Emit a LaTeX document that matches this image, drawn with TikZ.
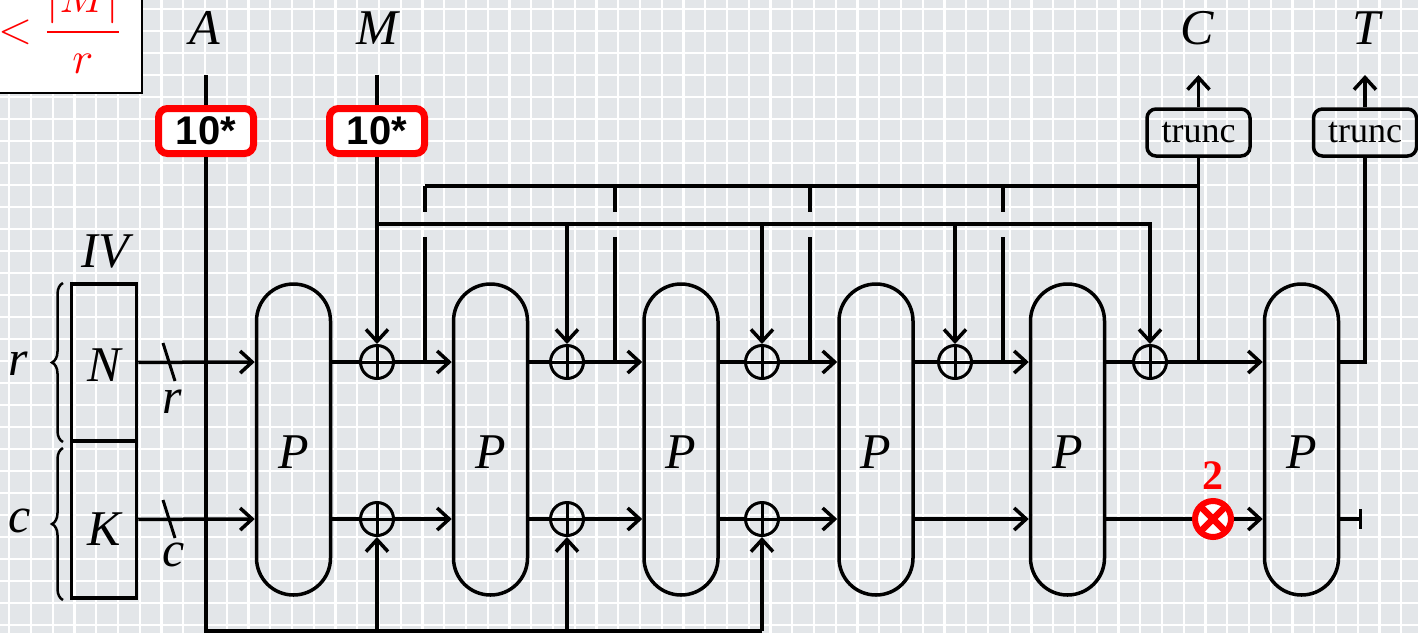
\documentclass[tikz,border=0pt]{standalone}
\usepackage{fontspec}
\setmainfont{Liberation Serif}
\setsansfont{Liberation Sans}
\usepackage{amsmath}
\usepackage{graphicx}
\usepackage{xcolor}
\usepackage{tikz}
\usetikzlibrary{arrows.meta}
\usetikzlibrary{decorations.pathreplacing}
\definecolor{papel}{RGB}{227, 230, 233}
\definecolor{rojo}{RGB}{255, 0, 0}

\begin{document}
\begin{tikzpicture}[x=1pt, y=-1pt,
  wire/.style={line width=3.5pt},
  arr/.style={wire, -{Straight Barb[length=12pt, width=22pt]}},
  lbl/.style={font=\fontsize{50}{60}\selectfont\itshape, inner sep=0pt},
  pbox/.style={draw, wire, minimum width=74pt, minimum height=311pt, rounded corners=37pt, inner sep=0pt},
  xorc/.style={draw, circle, line width=3pt, minimum size=33pt, inner sep=0pt,
    path picture={\draw[line width=3pt] (path picture bounding box.north) -- (path picture bounding box.south)
      (path picture bounding box.west) -- (path picture bounding box.east);}},
  mulc/.style={circle, draw=rojo, line width=6pt, fill=white, minimum size=36pt, inner sep=0pt,
    path picture={\draw[rojo, line width=6.5pt]
      ([shift={(-14pt,-14pt)}]path picture bounding box.center) -- ([shift={(14pt,14pt)}]path picture bounding box.center)
      ([shift={(-14pt,14pt)}]path picture bounding box.center) -- ([shift={(14pt,-14pt)}]path picture bounding box.center);}},
  tenbox/.style={draw=rojo, line width=7pt, fill=white, rounded corners=9pt, minimum width=95pt, minimum height=45pt,
    inner sep=0pt, font=\fontsize{40}{48}\selectfont\sffamily\bfseries},
  truncbox/.style={draw, wire, rounded corners=9pt, minimum width=103pt, minimum height=47pt, inner sep=0pt,
    font=\fontsize{36}{42}\selectfont},
  ivbox/.style={draw, wire, minimum width=65pt, minimum height=157pt, inner sep=0pt}]

  % Fondo cuadriculado
  \useasboundingbox (0,0) rectangle (1418,633);
  \fill[papel] (0,0) rectangle (1418,633);
  \begin{scope}
    \clip (0,0) rectangle (1418,633);
    \foreach \g in {0,...,65} \draw[white, line width=2.2pt] ({9.3+21.75*\g},0) -- ({9.3+21.75*\g},633);
    \foreach \g in {0,...,29} \draw[white, line width=2.2pt] (0,{9.3+22*\g}) -- (1418,{9.3+22*\g});
  \end{scope}

  % Nota recortada
  \draw[fill=white, line width=2pt] (-5,-5) rectangle (142,93);
  \node[text=rojo, anchor=base west, inner sep=0pt] (bound) at (-2,43.2)
    {\fontsize{24.88}{30}\selectfont\scalebox{1.8}{$<\dfrac{|M|}{r}$}};

  % Entradas y salidas
  \node[lbl] (alab) at (205,28) {A};
  \node[lbl] (mlab) at (377,28) {M};
  \node[lbl] (clab) at (1197,28) {C};
  \node[lbl] (tlab) at (1366,28) {T};
  \coordinate (atop) at (206,75);
  \coordinate (mtop) at (377,75);
  \coordinate (abot) at (206,631);
  \coordinate (mbus) at (377,224);
  \coordinate (cbus) at (425,186);
  \coordinate (cout) at (1198.5,75);
  \coordinate (tout) at (1365,75);
  \coordinate (kend) at (1362,519);

  \node[tenbox] (tenA) at (206,131) {10*};
  \node[tenbox] (tenM) at (377,131) {10*};
  \node[truncbox] (trC) at (1198.5,132.5) {trunc};
  \node[truncbox] (trT) at (1365,132.5) {trunc};

  % Estado inicial
  \node[ivbox, label={[lbl, yshift=-3pt]center:N}] (nbox) at (104,362.5) {};
  \node[ivbox, label={[lbl, yshift=-10pt]center:K}] (kbox) at (104,519.5) {};
  \node[lbl] (ivlab) at (105,251.5) {IV};
  \draw[line width=2.5pt, decorate, decoration={brace, amplitude=11pt}] (63,442) -- (63,283);
  \draw[line width=2.5pt, decorate, decoration={brace, amplitude=11pt}] (63,600) -- (63,448);
  \node[lbl] (rlab) at (18,364) {r};
  \node[lbl] (clab2) at (20,521) {c};

  % Permutaciones
  \foreach \n/\x in {1/293.5, 2/490.5, 3/681, 4/876, 5/1067.5, 6/1301.5}
    \node[pbox, label={[lbl, yshift=-13pt]center:P}] (p\n) at (\x,439.5) {};

  % XOR
  \foreach \n/\x in {1/377, 2/567, 3/762, 4/955, 5/1150}
    \node[xorc] (ua\n) at (\x,362) {};
  \foreach \n/\x in {1/377, 2/567, 3/762}
    \node[xorc] (la\n) at (\x,519) {};

  % Rama superior
  \draw[arr] (nbox) -- (p1.west |- ua1);
  \foreach \i [evaluate=\i as \j using int(\i+1)] in {1,...,5} {
    \draw[wire] (p\i.east |- ua\i) -- (ua\i);
    \draw[arr] (ua\i) -- (p\j.west |- ua\i);
  }
  \coordinate (sn) at (169,362);
  \draw[line width=3pt] ([shift={(-6,-19)}]sn) -- ([shift={(6,19)}]sn);
  \node[lbl] (rlab2) at (172,402) {r};

  % Rama inferior
  \draw[arr] (kbox) -- (p1.west |- la1);
  \foreach \i [evaluate=\i as \j using int(\i+1)] in {1,2,3} {
    \draw[wire] (p\i.east |- la\i) -- (la\i);
    \draw[arr] (la\i) -- (p\j.west |- la\i);
  }
  \draw[arr] (p4.east |- la3) -- (p5.west |- la3);
  \coordinate (mulpos) at (1213,519);
  \draw[wire] (p5.east |- la3) -- (mulpos);
  \node[mulc] (mul) at (mulpos) {};
  \node[text=rojo, font=\fontsize{42}{50}\selectfont\bfseries, inner sep=0pt] (twolab) at (1213,476) {2};
  \draw[arr] (mul) -- (p6.west |- mul);
  \draw[wire, -{Bar[width=20pt]}] (p6.east |- mul) -- (kend);
  \coordinate (sk) at (169,519);
  \draw[line width=3pt] ([shift={(-6,-19)}]sk) -- ([shift={(6,19)}]sk);
  \node[lbl] (clab3) at (174,555) {c};

  % Datos asociados A
  \draw[wire] (atop) -- (tenA);
  \draw[wire] (tenA) -- (abot) -- (abot -| la3);
  \foreach \i in {1,2,3} \draw[arr] (abot -| la\i) -- (la\i);

  % Mensaje M
  \draw[wire] (mtop) -- (tenM);
  \draw[arr] (tenM) -- (ua1);
  \draw[arr] (mbus) -| (ua5);
  \foreach \i in {2,3,4} \draw[arr] (mbus -| ua\i) -- (ua\i);

  % Salida C (con salto sobre el bus de M)
  \foreach \i in {1,...,4} {
    \coordinate (tap\i) at ([xshift=48pt]ua\i.center);
    \draw[wire] (tap\i |- cbus) -- ++(0,26);
    \draw[wire] (tap\i) -- ++(0,-125);
  }
  \draw[wire] (cbus) -- (cbus -| trC);
  \draw[wire] (trC |- ua5) -- (trC);
  \draw[arr] (trC) -- (cout);

  % Etiqueta T
  \draw[wire] (p6.east |- ua5) -| (trT);
  \draw[arr] (trT) -- (tout);
\end{tikzpicture}
\end{document}
